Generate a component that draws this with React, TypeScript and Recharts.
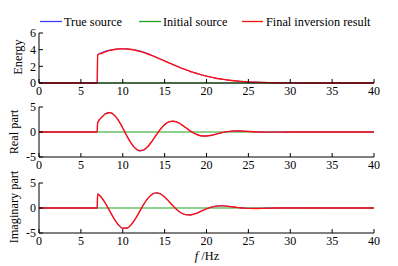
import { Line, LineChart, XAxis, YAxis } from "recharts";

// frequency samples (Hz)
const freq = [
  0, 6.95, 7, 7.5, 8, 8.5, 9, 9.5, 10, 10.5, 11, 11.5, 12, 12.5, 13, 13.5, 14,
  14.5, 15, 15.5, 16, 16.5, 17, 17.5, 18, 18.5, 19, 19.5, 20, 20.5, 21, 21.5, 22,
  22.5, 23, 23.5, 24, 24.5, 25, 26, 27, 28, 29, 30, 35, 40,
];

const energyTrue = [
  0, 0, 3.4, 3.66, 3.85, 3.97, 4.04, 4.09, 4.11, 4.09, 4.04, 3.96, 3.87, 3.72,
  3.53, 3.31, 3.09, 2.87, 2.65, 2.43, 2.21, 2.0, 1.79, 1.6, 1.41, 1.25, 1.09,
  0.95, 0.82, 0.7, 0.6, 0.51, 0.43, 0.36, 0.3, 0.25, 0.2, 0.17, 0.13, 0.09,
  0.06, 0.03, 0.02, 0.01, 0, 0,
];
const energyFinal = [
  0, 0, 3.35, 3.57, 3.76, 3.91, 4.02, 4.08, 4.1, 4.08, 4.02, 3.93, 3.8, 3.65,
  3.48, 3.28, 3.08, 2.86, 2.64, 2.42, 2.21, 1.99, 1.79, 1.6, 1.41, 1.25, 1.09,
  0.95, 0.82, 0.7, 0.6, 0.51, 0.43, 0.36, 0.3, 0.25, 0.2, 0.17, 0.13, 0.09,
  0.06, 0.03, 0.02, 0.01, 0, 0,
];

const realTrue = [
  0, 0, 1.9, 3.02, 3.76, 3.92, 3.4, 2.29, 0.8, -0.81, -2.26, -3.32, -3.8,
  -3.64, -2.93, -1.84, -0.6, 0.56, 1.47, 2.02, 2.16, 1.96, 1.49, 0.89, 0.28,
  -0.24, -0.6, -0.79, -0.8, -0.69, -0.5, -0.28, -0.08, 0.07, 0.17, 0.21, 0.2,
  0.16, 0.11, 0.02, -0.03, -0.03, -0.02, 0, 0, 0,
];
const realFinal = [
  0, 0, 1.86, 2.97, 3.69, 3.84, 3.34, 2.27, 0.8, -0.8, -2.23, -3.27, -3.73,
  -3.58, -2.89, -1.82, -0.6, 0.56, 1.47, 2.02, 2.16, 1.96, 1.49, 0.89, 0.28,
  -0.24, -0.6, -0.79, -0.8, -0.69, -0.5, -0.28, -0.08, 0.07, 0.17, 0.21, 0.2,
  0.16, 0.11, 0.02, -0.03, -0.03, -0.02, 0, 0, 0,
];

const imagTrue = [
  0, 0, 2.82, 2.02, 0.75, -0.77, -2.25, -3.42, -4.06, -4.04, -3.37, -2.2,
  -0.75, 0.72, 1.95, 2.75, 3.04, 2.82, 2.21, 1.35, 0.43, -0.39, -1.0, -1.33,
  -1.39, -1.22, -0.91, -0.53, -0.16, 0.14, 0.33, 0.42, 0.42, 0.35, 0.25, 0.14,
  0.04, -0.03, -0.07, -0.09, -0.05, -0.01, 0.01, 0.01, 0, 0,
];
const imagFinal = [
  0, 0, 2.78, 1.99, 0.73, -0.76, -2.23, -3.39, -4.02, -4.0, -3.34, -2.18,
  -0.74, 0.71, 1.93, 2.73, 3.02, 2.81, 2.2, 1.35, 0.43, -0.39, -1.0, -1.33,
  -1.39, -1.22, -0.91, -0.53, -0.16, 0.14, 0.33, 0.42, 0.42, 0.35, 0.25, 0.14,
  0.04, -0.03, -0.07, -0.09, -0.05, -0.01, 0.01, 0.01, 0, 0,
];

const initialSource = freq.map(() => 0);

const xTicks = [0, 5, 10, 15, 20, 25, 30, 35, 40];
const energyTicks = [0, 2, 4, 6];
const partTicks = [-5, 0, 5];

const rows = freq.map((f, i) => ({
  f,
  eTrue: energyTrue[i],
  eInit: initialSource[i],
  eFinal: energyFinal[i],
  rTrue: realTrue[i],
  rInit: initialSource[i],
  rFinal: realFinal[i],
  iTrue: imagTrue[i],
  iInit: initialSource[i],
  iFinal: imagFinal[i],
}));

const FONT = '"Liberation Serif", "Times New Roman", serif';
const BLUE = "#3c3cff";
const GREEN = "#22a022";
const RED = "#ff1010";
const tickStyle = { fill: "#000", fontSize: 12, fontFamily: FONT };

interface PanelProps {
  top: number;
  keys: [string, string, string];
  domain: [number, number];
  yTicks: number[];
}

// each panel: plot box starts 10px below `top`, 50px tall
function Panel({ top, keys, domain, yTicks }: PanelProps) {
  return (
    <div style={{ position: "absolute", left: 0, top, width: 398, height: 84 }}>
      <LineChart
        width={398}
        height={84}
        data={rows}
        margin={{ top: 10, right: 24, bottom: 4, left: 19 }}
      >
        <XAxis
          xAxisId="b"
          dataKey="f"
          type="number"
          domain={[0, 40]}
          ticks={xTicks}
          interval={0}
          height={20}
          tickSize={-4}
          tickMargin={7}
          stroke="#000"
          tick={tickStyle}
        />
        <XAxis
          xAxisId="t"
          orientation="top"
          dataKey="f"
          type="number"
          domain={[0, 40]}
          ticks={xTicks}
          interval={0}
          height={0}
          tickSize={-4}
          tick={false}
          stroke="#000"
        />
        <YAxis
          yAxisId="l"
          type="number"
          domain={domain}
          ticks={yTicks}
          interval={0}
          width={20}
          tickSize={-4}
          tickMargin={7}
          stroke="#000"
          tick={tickStyle}
        />
        <YAxis
          yAxisId="r"
          orientation="right"
          type="number"
          domain={domain}
          ticks={yTicks}
          interval={0}
          width={0}
          tickSize={-4}
          tick={false}
          stroke="#000"
        />
        <Line xAxisId="b" yAxisId="l" type="monotone" dataKey={keys[1]} stroke={GREEN} strokeWidth={1.2} dot={false} isAnimationActive={false} />
        <Line xAxisId="b" yAxisId="l" type="monotone" dataKey={keys[0]} stroke={BLUE} strokeWidth={1} dot={false} isAnimationActive={false} />
        <Line xAxisId="b" yAxisId="l" type="monotone" dataKey={keys[2]} stroke={RED} strokeWidth={1.4} dot={false} isAnimationActive={false} />
      </LineChart>
    </div>
  );
}

export default function App() {
  const txt = { fontFamily: FONT, fontSize: 12.3, fill: "#000" };
  return (
    <div
      style={{
        position: "absolute",
        left: 0,
        top: 0,
        width: 398,
        height: 266,
        background: "#fff",
        overflow: "hidden",
      }}
    >
      <Panel top={23} keys={["eTrue", "eInit", "eFinal"]} domain={[0, 6]} yTicks={energyTicks} />
      <Panel top={97} keys={["rTrue", "rInit", "rFinal"]} domain={[-5, 5]} yTicks={partTicks} />
      <Panel top={173} keys={["iTrue", "iInit", "iFinal"]} domain={[-5, 5]} yTicks={partTicks} />
      <svg
        width={398}
        height={266}
        style={{ position: "absolute", left: 0, top: 0, pointerEvents: "none" }}
      >
        {/* legend */}
        <line x1={40} y1={21.5} x2={62} y2={21.5} stroke={BLUE} strokeWidth={1.3} />
        <text x={64} y={25.5} {...txt}>True source</text>
        <line x1={139} y1={21.5} x2={161} y2={21.5} stroke={GREEN} strokeWidth={1.3} />
        <text x={163} y={25.5} {...txt}>Initial source</text>
        <line x1={242} y1={21.5} x2={263} y2={21.5} stroke={RED} strokeWidth={1.3} />
        <text x={266} y={25.5} {...txt}>Final inversion result</text>
        {/* axis titles */}
        <text x={22} y={57} transform="rotate(-90 22 57)" textAnchor="middle" {...txt}>Energy</text>
        <text x={18} y={132} transform="rotate(-90 18 132)" textAnchor="middle" {...txt}>Real part</text>
        <text x={18} y={207} transform="rotate(-90 18 207)" textAnchor="middle" {...txt}>Imaginary part</text>
        <text x={207} y={260} textAnchor="middle" {...txt}>
          <tspan fontStyle="italic">f</tspan> /Hz
        </text>
      </svg>
    </div>
  );
}
